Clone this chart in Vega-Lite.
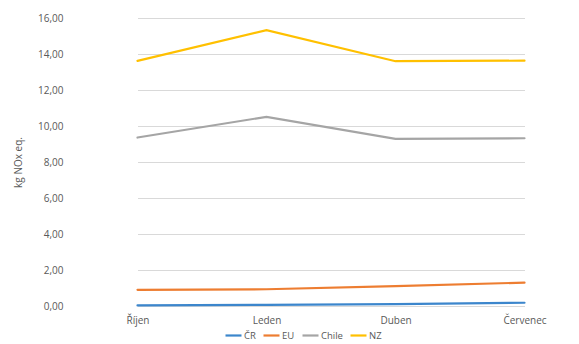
{
  "$schema": "https://vega.github.io/schema/vega-lite/v6.json",
  "width": 506,
  "height": 288,
  "autosize": "none",
  "padding": {"left": 73, "top": 18, "right": 0, "bottom": 38},
  "background": "white",
  "config": {
    "font": "Open Sans",
    "view": {"stroke": null},
    "axis": {"labelColor": "#595959", "titleColor": "#595959", "labelFont": "Open Sans", "titleFont": "Open Sans"}
  },
  "data": {
    "values": [
      {"mesic": "Říjen", "oblast": "ČR", "hodnota": 0.03},
      {"mesic": "Leden", "oblast": "ČR", "hodnota": 0.06},
      {"mesic": "Duben", "oblast": "ČR", "hodnota": 0.1},
      {"mesic": "Červenec", "oblast": "ČR", "hodnota": 0.18},
      {"mesic": "Říjen", "oblast": "EU", "hodnota": 0.9},
      {"mesic": "Leden", "oblast": "EU", "hodnota": 0.93},
      {"mesic": "Duben", "oblast": "EU", "hodnota": 1.1},
      {"mesic": "Červenec", "oblast": "EU", "hodnota": 1.3},
      {"mesic": "Říjen", "oblast": "Chile", "hodnota": 9.36},
      {"mesic": "Leden", "oblast": "Chile", "hodnota": 10.51},
      {"mesic": "Duben", "oblast": "Chile", "hodnota": 9.29},
      {"mesic": "Červenec", "oblast": "Chile", "hodnota": 9.32},
      {"mesic": "Říjen", "oblast": "NZ", "hodnota": 13.62},
      {"mesic": "Leden", "oblast": "NZ", "hodnota": 15.32},
      {"mesic": "Duben", "oblast": "NZ", "hodnota": 13.6},
      {"mesic": "Červenec", "oblast": "NZ", "hodnota": 13.63}
    ]
  },
  "mark": {"type": "line", "strokeWidth": 2.2, "strokeCap": "round"},
  "encoding": {
    "x": {
      "field": "mesic",
      "type": "ordinal",
      "sort": ["Říjen", "Leden", "Duben", "Červenec"],
      "scale": {"type": "point", "range": [64.5, 451.5], "padding": 0},
      "axis": {"title": null, "labelAngle": 0, "domain": false, "ticks": false, "labelPadding": 9, "labelFontSize": 10, "grid": false}
    },
    "y": {
      "field": "hodnota",
      "type": "quantitative",
      "scale": {"domain": [0, 16], "nice": false},
      "axis": {
        "title": "kg NOx eq.",
        "titleFontSize": 10,
        "titleFontWeight": "normal",
        "titlePadding": 14,
        "values": [0, 2, 4, 6, 8, 10, 12, 14, 16],
        "format": ".2f",
        "labelExpr": "replace(datum.label, '.', ',')",
        "labelFontSize": 10,
        "labelPadding": 10,
        "domain": false,
        "ticks": false,
        "grid": true,
        "gridColor": "#d9d9d9",
        "gridWidth": 1
      }
    },
    "color": {
      "field": "oblast",
      "type": "nominal",
      "sort": ["ČR", "EU", "Chile", "NZ"],
      "scale": {"domain": ["ČR", "EU", "Chile", "NZ"], "range": ["#3C86CC", "#ED7D31", "#A5A5A5", "#FFC000"]},
      "legend": {
        "title": null,
        "orient": "none",
        "direction": "horizontal",
        "legendX": 151,
        "legendY": 308,
        "symbolType": "stroke",
        "symbolSize": 256,
        "symbolStrokeWidth": 2.2,
        "labelFontSize": 9.5,
        "labelColor": "#595959",
        "labelOffset": 1,
        "columnPadding": 3
      }
    }
  }
}
